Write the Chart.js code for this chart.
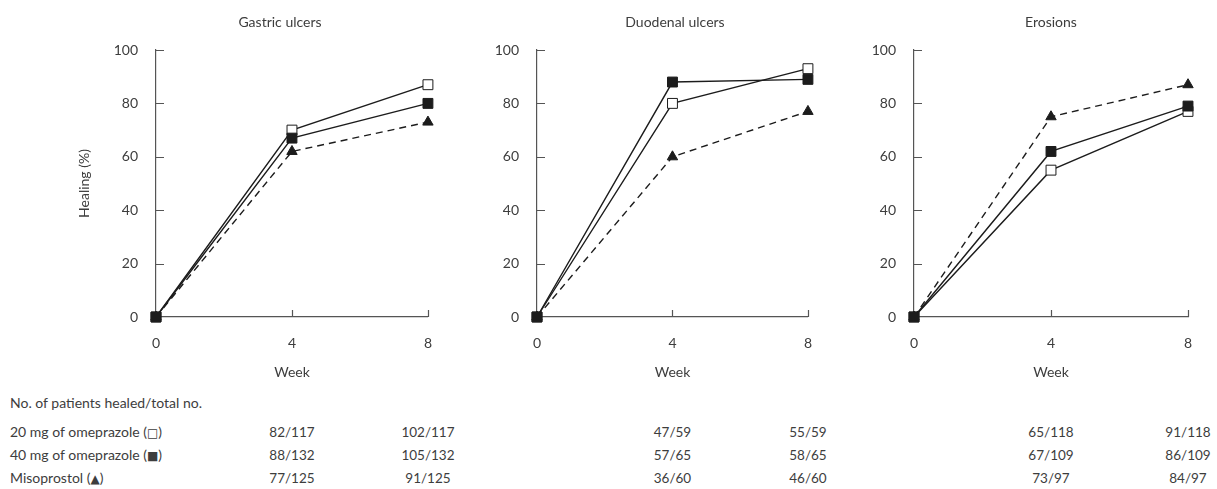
<!DOCTYPE html>
<html>
<head>
<meta charset="utf-8">
<script src="https://cdn.jsdelivr.net/npm/chart.js@4"></script>
<style>
  html, body { margin: 0; padding: 0; background: #fff; }
  body { width: 1217px; height: 489px; position: relative; overflow: hidden;
         font-family: Lato, "DejaVu Sans", sans-serif; color: #3d3d3d; }
  .panel { position: absolute; top: 0; height: 390px; }
  .txt { position: absolute; font-size: 14px; line-height: 16px; white-space: nowrap; color: #3d3d3d; }
  .num { font-size: 13.5px; }
  .c { transform: translate(-50%, -50%); }
  .l { transform: translate(0, -50%); }
  .sym { font-family: "DejaVu Sans", sans-serif; font-size: 12px; }
</style>
</head>
<body>
<div class="panel" id="p0" style="left:0;width:450px"><canvas id="c0"></canvas></div>
<div class="panel" id="p1" style="left:450px;width:380px"><canvas id="c1"></canvas></div>
<div class="panel" id="p2" style="left:830px;width:387px"><canvas id="c2"></canvas></div>
<script>
// ---- data ----
const weeks = [0, 4, 8];
const panelTitles = ["Gastric ulcers", "Duodenal ulcers", "Erosions"];
const yTicks = [0, 20, 40, 60, 80, 100];
const seriesNames = ["20 mg of omeprazole", "40 mg of omeprazole", "Misoprostol"];
const seriesSymbols = ["\u25A1", "\u25A0", "\u25B2"];

const gastric20 = [0, 70, 87];
const gastric40 = [0, 67, 80];
const gastricMiso = [0, 62, 73];

const duodenal20 = [0, 80, 93];
const duodenal40 = [0, 88, 89];
const duodenalMiso = [0, 60, 77];

const erosion20 = [0, 55, 77];
const erosion40 = [0, 62, 79];
const erosionMiso = [0, 75, 87];

const tableHeading = "No. of patients healed/total no.";
const gastricCounts = [["82/117", "102/117"], ["88/132", "105/132"], ["77/125", "91/125"]];
const duodenalCounts = [["47/59", "55/59"], ["57/65", "58/65"], ["36/60", "46/60"]];
const erosionCounts = [["65/118", "91/118"], ["67/109", "86/109"], ["73/97", "84/97"]];
const tableWeeks = [4, 8];

// ---- styling / layout ----
const panelData = [
  [gastric20, gastric40, gastricMiso],
  [duodenal20, duodenal40, duodenalMiso],
  [erosion20, erosion40, erosionMiso]
];
const panelCounts = [gastricCounts, duodenalCounts, erosionCounts];
const panelLeft = [0, 450, 830];
const yAxisWidth = [156, 87, 84];
const padRight = [19, 19, 29];
const titleCenter = [280, 675, 1051];
const ink = '#1c1c1c';
const axisColor = '#555';
const textColor = '#3d3d3d';
const font14 = { family: 'Lato, "DejaVu Sans", sans-serif', size: 14 };

const inwardTicks = {
  id: 'inwardTicks',
  beforeDatasetsDraw(chart) {
    const { ctx, chartArea: a, scales: { x, y } } = chart;
    ctx.save();
    ctx.strokeStyle = axisColor;
    ctx.lineWidth = 1.2;
    ctx.beginPath();
    y.ticks.forEach(t => {
      if (t.value === 0) return;
      const py = Math.round(y.getPixelForValue(t.value)) + 0.5;
      ctx.moveTo(a.left, py); ctx.lineTo(a.left + 8, py);
    });
    x.ticks.forEach(t => {
      if (t.value === 0) return;
      const px = Math.round(x.getPixelForValue(t.value)) + 0.5;
      ctx.moveTo(px, a.bottom); ctx.lineTo(px, a.bottom - 7);
    });
    ctx.stroke();
    ctx.restore();
  }
};

function makeDatasets(vals) {
  const common = { borderColor: ink, borderWidth: 1.4, clip: false, tension: 0, pointBorderColor: ink, pointBorderWidth: 1 };
  return [
    Object.assign({}, common, { label: seriesNames[0], data: weeks.map((w, i) => ({ x: w, y: vals[0][i] })),
      pointStyle: 'rect', pointRadius: 7, pointBackgroundColor: '#fff', order: 1 }),
    Object.assign({}, common, { label: seriesNames[1], data: weeks.map((w, i) => ({ x: w, y: vals[1][i] })),
      pointStyle: 'rect', pointRadius: 7, pointBackgroundColor: ink, order: 0 }),
    Object.assign({}, common, { label: seriesNames[2], data: weeks.map((w, i) => ({ x: w, y: vals[2][i] })),
      pointStyle: 'triangle', pointRadius: 6, pointBackgroundColor: ink, borderDash: [7, 5], order: 2 })
  ];
}

const charts = panelData.map((vals, i) => {
  const el = document.getElementById('c' + i);
  return new Chart(el, {
    type: 'line',
    data: { datasets: makeDatasets(vals) },
    plugins: [inwardTicks],
    options: {
      responsive: true,
      maintainAspectRatio: false,
      animation: false,
      events: [],
      layout: { padding: { top: 50, right: padRight[i], bottom: 0, left: 0 } },
      plugins: { legend: { display: false }, title: { display: false }, tooltip: { enabled: false } },
      scales: {
        x: {
          type: 'linear', min: 0, max: 8,
          afterBuildTicks: s => { s.ticks = weeks.map(v => ({ value: v })); },
          afterFit: s => { s.height = 73; },
          grid: { display: true, drawOnChartArea: false, drawTicks: false },
          border: { display: true, color: axisColor, width: 1.2 },
          ticks: { color: textColor, font: font14, padding: 18, maxRotation: 0 },
          title: { display: true, text: 'Week', color: textColor, font: font14, padding: { top: 0, bottom: 9 } }
        },
        y: {
          type: 'linear', min: 0, max: 100,
          afterBuildTicks: s => { s.ticks = yTicks.map(v => ({ value: v })); },
          afterFit: s => { s.width = yAxisWidth[i]; },
          grid: { display: true, drawOnChartArea: false, drawTicks: false },
          border: { display: true, color: axisColor, width: 1.2 },
          ticks: { color: textColor, font: font14, padding: 18 },
          title: { display: i === 0, text: 'Healing (%)', color: textColor, font: font14, padding: { top: 76, bottom: 0 } }
        }
      }
    }
  });
});

// ---- text: panel titles and the table ----
function addText(html, x, y, cls) {
  const d = document.createElement('div');
  d.className = 'txt ' + cls;
  d.style.left = x + 'px';
  d.style.top = y + 'px';
  d.innerHTML = html;
  document.body.appendChild(d);
}
panelTitles.forEach((t, i) => addText(t, titleCenter[i], 22, 'c'));
addText(tableHeading, 10, 403, 'l');
const rowY = [432, 455, 478];
seriesNames.forEach((n, r) => addText(n + ' (<span class="sym">' + seriesSymbols[r] + '</span>)', 10, rowY[r], 'l'));
charts.forEach((ch, i) => {
  tableWeeks.forEach((w, j) => {
    const px = panelLeft[i] + ch.scales.x.getPixelForValue(w);
    panelCounts[i].forEach((row, r) => addText(row[j], px, rowY[r], 'c num'));
  });
});
</script>
</body>
</html>
